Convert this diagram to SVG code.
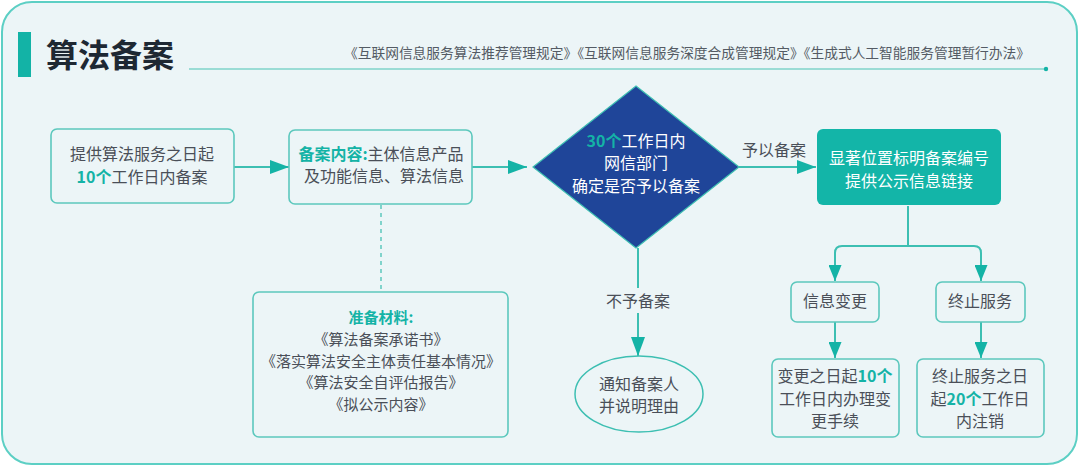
<svg xmlns="http://www.w3.org/2000/svg" width="1080" height="467" viewBox="0 0 1080 467">
<defs>
<style>
text{font-family:"Noto Sans CJK SC","Noto Sans",sans-serif;}
.t{font-size:16px;fill:#4a4f58;text-anchor:middle;}
.m{font-size:15px;fill:#4a4f58;text-anchor:middle;}
.w{font-size:16px;fill:#ffffff;text-anchor:middle;}
.hl{fill:#14b3a6;font-weight:bold;}
.box{fill:none;stroke:#5cc8bd;stroke-width:1.6;}
.ln{fill:none;stroke:#3dbfb2;stroke-width:2;}
</style>
<marker id="ah" markerWidth="19" markerHeight="14" refX="19" refY="7" orient="auto" markerUnits="userSpaceOnUse">
<path d="M0,0 L19,7 L0,14 Z" fill="#14b3a6"/>
</marker>
<marker id="ahs" markerWidth="16" markerHeight="13" refX="16" refY="6.5" orient="auto" markerUnits="userSpaceOnUse">
<path d="M0,0 L16,6.5 L0,13 Z" fill="#14b3a6"/>
</marker>
</defs>
<rect x="2" y="2" width="1075" height="462" rx="30" fill="#ecf5f7" stroke="#5ccfc4" stroke-width="2"/>
<g id="header">
<rect x="18" y="32" width="13" height="45" fill="#13b3a6"/>
<text x="46" y="67" style="font-size:32px;font-weight:bold;fill:#1e2833;">算法备案</text>
<line x1="189" y1="69" x2="1046" y2="69" stroke="#7fd3ca" stroke-width="1.5"/>
<circle cx="1046" cy="69" r="2.2" fill="#14b3a6"/>
<text x="344" y="58" textLength="686" lengthAdjust="spacingAndGlyphs" style="font-size:13.5px;fill:#545b64;">《互联网信息服务算法推荐管理规定》《互联网信息服务深度合成管理规定》《生成式人工智能服务管理暂行办法》</text>
</g>
<g id="connectors">
<line class="ln" x1="234" y1="167" x2="289" y2="167" marker-end="url(#ah)"/>
<line class="ln" x1="472" y1="167" x2="527" y2="167" marker-end="url(#ah)"/>
<line class="ln" x1="739" y1="167" x2="816" y2="167" marker-end="url(#ah)"/>
<text class="t" x="774" y="156">予以备案</text>
<line x1="381" y1="205" x2="381" y2="291" stroke="#5cc8bd" stroke-width="1.5" stroke-dasharray="4 4"/>
<line class="ln" x1="638" y1="248" x2="638" y2="288"/>
<text class="t" x="638" y="307">不予备案</text>
<line class="ln" x1="638" y1="313" x2="638" y2="356" marker-end="url(#ah)"/>
<path class="ln" d="M908,206 V246"/>
<path class="ln" d="M908,246 H842 Q835,246 835,253 V281" marker-end="url(#ahs)"/>
<path class="ln" d="M908,246 H974 Q981,246 981,253 V281" marker-end="url(#ahs)"/>
<line class="ln" x1="835" y1="322" x2="835" y2="358" marker-end="url(#ahs)"/>
<line class="ln" x1="981" y1="322" x2="981" y2="358" marker-end="url(#ahs)"/>
</g>
<g id="n1">
<rect class="box" x="51" y="129" width="183" height="74" rx="6"/>
<text class="t" x="142" y="160">提供算法服务之日起</text>
<text class="t" x="142" y="183"><tspan class="hl">10个</tspan>工作日内备案</text>
</g>
<g id="n2">
<rect class="box" x="289" y="130" width="183" height="74" rx="6"/>
<text class="t" x="381" y="160"><tspan class="hl">备案内容:</tspan>主体信息产品</text>
<text class="t" x="384" y="182">及功能信息、算法信息</text>
</g>
<g id="n3">
<path d="M636,86 L739,167 L636,248 L533,167 Z" fill="#1f4599" stroke="#3dbfb2" stroke-width="1.2"/>
<text class="w" x="636" y="147"><tspan class="hl">30个</tspan>工作日内</text>
<text class="w" x="636" y="169">网信部门</text>
<text class="w" x="636" y="192">确定是否予以备案</text>
</g>
<g id="n4">
<rect x="817" y="129" width="184" height="76" rx="6" fill="#13b5a8"/>
<text class="w" x="909" y="164">显著位置标明备案编号</text>
<text class="w" x="909" y="187">提供公示信息链接</text>
</g>
<g id="n5">
<rect class="box" x="253" y="292" width="255" height="145" rx="6"/>
<text class="m" x="381" y="323"><tspan class="hl">准备材料:</tspan></text>
<text class="m" x="381" y="345">《算法备案承诺书》</text>
<text class="m" x="381" y="367">《落实算法安全主体责任基本情况》</text>
<text class="m" x="381" y="388">《算法安全自评估报告》</text>
<text class="m" x="381" y="410">《拟公示内容》</text>
</g>
<g id="n6">
<ellipse cx="639" cy="394" rx="64" ry="38" fill="none" stroke="#3dbfb2" stroke-width="1.5"/>
<text class="t" x="639" y="390">通知备案人</text>
<text class="t" x="639" y="412">并说明理由</text>
</g>
<g id="n7">
<rect class="box" x="791" y="282" width="88" height="40" rx="6"/>
<text class="t" x="835" y="307">信息变更</text>
</g>
<g id="n8">
<rect class="box" x="936" y="282" width="89" height="40" rx="6"/>
<text class="t" x="980" y="307">终止服务</text>
</g>
<g id="n9">
<rect class="box" x="772" y="359" width="127" height="78" rx="6"/>
<text class="t" x="835" y="382">变更之日起<tspan class="hl">10个</tspan></text>
<text class="t" x="835" y="405">工作日内办理变</text>
<text class="t" x="835" y="427">更手续</text>
</g>
<g id="n10">
<rect class="box" x="917" y="359" width="127" height="78" rx="6"/>
<text class="t" x="980" y="382">终止服务之日</text>
<text class="t" x="980" y="405">起<tspan class="hl">20个</tspan>工作日</text>
<text class="t" x="980" y="427">内注销</text>
</g>
</svg>
